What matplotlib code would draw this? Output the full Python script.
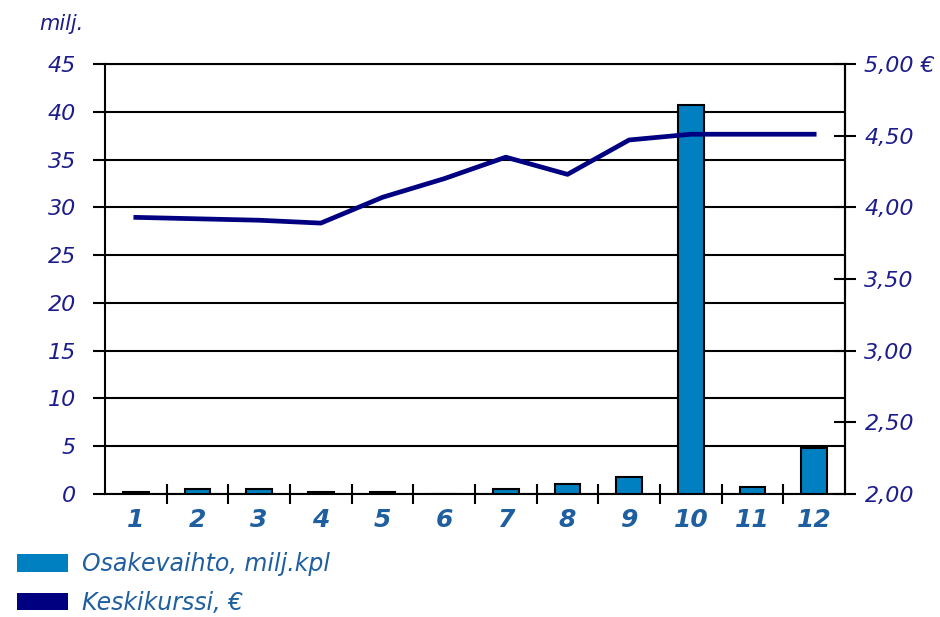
import matplotlib.pyplot as plt
from matplotlib.patches import Patch
from matplotlib.ticker import FixedLocator, FuncFormatter

# monthly trading volume (million shares) and average price (EUR)
months = ['1', '2', '3', '4', '5', '6', '7', '8', '9', '10', '11', '12']
volume = [0.2, 0.5, 0.5, 0.2, 0.2, 0.0, 0.5, 1.0, 1.8, 40.7, 0.7, 4.8]
avg_price = [3.93, 3.92, 3.91, 3.89, 4.07, 4.20, 4.35, 4.23, 4.47, 4.51, 4.51, 4.51]

bar_col = '#0080c0'
line_col = '#000080'
label_col = '#1c1c8c'
xlab_col = '#1f5fa0'

fig = plt.figure(figsize=(9.4, 6.17), dpi=100)
ax = fig.add_axes([105 / 940, 1 - 494 / 617, 740 / 940, 430 / 617])

x = list(range(len(months)))
ax.bar(x, volume, width=0.42, color=bar_col, edgecolor='black', linewidth=1.5, zorder=3)
ax.set_xlim(-0.5, len(months) - 0.5)
ax.set_ylim(0, 45)
ax.set_yticks(range(0, 46, 5))
ax.yaxis.grid(True, color='black', linewidth=1.5, zorder=0)
ax.set_axisbelow(True)

# the 45 gridline doubles as the top border
for side in ['top', 'left', 'right', 'bottom']:
    ax.spines[side].set_linewidth(1.5)

ax.tick_params(axis='y', which='major', length=9, width=1.5, direction='out',
               labelsize=16, labelcolor=label_col, pad=12)
for t in ax.get_yticklabels():
    t.set_fontstyle('italic')

ax.set_xticks(x)
ax.set_xticklabels(months, fontsize=18, fontweight='bold', fontstyle='italic', color=xlab_col)
ax.tick_params(axis='x', which='major', length=0, pad=10)
ax.xaxis.set_minor_locator(FixedLocator([i + 0.5 for i in range(len(months) - 1)]))
ax.tick_params(axis='x', which='minor', length=14, width=1.5, direction='inout')

ax2 = ax.twinx()
ax2.plot(x, avg_price, color=line_col, linewidth=3.4, zorder=4)
ax2.set_ylim(2.0, 5.0)
ax2.set_yticks([2.0, 2.5, 3.0, 3.5, 4.0, 4.5, 5.0])
ax2.yaxis.set_major_formatter(FuncFormatter(
    lambda v, p: ('%.2f' % v).replace('.', ',') + (' €' if v >= 5 else '')))
ax2.tick_params(axis='y', length=16, width=1.5, direction='inout',
                labelsize=16, labelcolor=label_col, pad=6)
for t in ax2.get_yticklabels():
    t.set_fontstyle('italic')
for side in ['top', 'left', 'bottom']:
    ax2.spines[side].set_visible(False)
ax2.spines['right'].set_linewidth(1.5)

fig.text(61 / 940, 1 - 24 / 617, 'milj.', fontsize=15, fontstyle='italic',
         color=label_col, ha='center', va='center')

handles = [Patch(facecolor=bar_col, edgecolor='none'),
           Patch(facecolor=line_col, edgecolor='none')]
fig.legend(handles, ['Osakevaihto, milj.kpl', 'Keskikurssi, €'],
           loc='lower left', bbox_to_anchor=(17 / 940, 2 / 617), frameon=False,
           borderpad=0, borderaxespad=0,
           handlelength=2.16, handleheight=0.76, handletextpad=0.6,
           labelspacing=0.62, labelcolor=xlab_col, prop={'style': 'italic', 'size': 17})

fig.savefig('out.png', dpi=100)
